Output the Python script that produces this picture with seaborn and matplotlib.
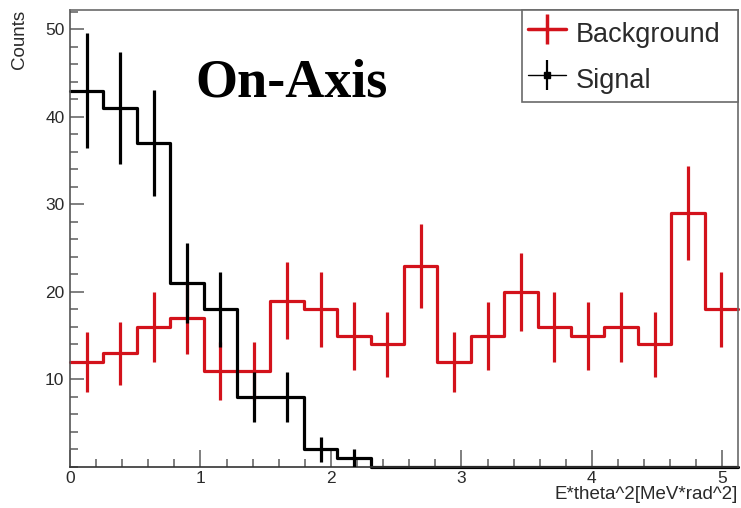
import numpy as np
import pandas as pd
import matplotlib
matplotlib.use("Agg")
import matplotlib.pyplot as plt
from matplotlib.lines import Line2D
from matplotlib.ticker import MultipleLocator
import seaborn as sns

# Histogram binning: 20 equal bins on E*theta^2
n_bins = 20
x_max = 5.12
bin_edges = np.linspace(0.0, x_max, n_bins + 1)
bin_centers = 0.5 * (bin_edges[:-1] + bin_edges[1:])

# Bin contents
background_counts = [12, 13, 16, 17, 11, 11, 19, 18, 15, 14,
                     23, 12, 15, 20, 16, 15, 16, 14, 29, 18]
signal_counts = [43, 41, 37, 21, 18, 8, 8, 2, 1, 0,
                 0, 0, 0, 0, 0, 0, 0, 0, 0, 0]

series_labels = ["Background", "Signal"]
x_label = "E*theta^2[MeV*rad^2]"
y_label = "Counts"
title_text = "On-Axis"

df = pd.DataFrame({
    "center": np.concatenate([bin_centers, bin_centers]),
    "counts": np.concatenate([background_counts, signal_counts]),
    "sample": np.repeat(series_labels, n_bins),
})

red = "#d3121b"
black = "#000000"
text_col = "#2a2a2a"
frame_col = "#6a6a6a"

sns.set_style("white")
plt.rcParams["font.family"] = ["Liberation Sans", "DejaVu Sans"]

fig = plt.figure(figsize=(7.41, 5.08), dpi=100)
ax = fig.add_axes([70 / 741, 1 - 467 / 508, 668 / 741, 457 / 508])

hist_lw = 2.3
for label, color in zip(series_labels, [red, black]):
    sub = df[df["sample"] == label]
    sns.histplot(data=sub, x="center", weights="counts", bins=n_bins,
                 binrange=(0.0, x_max), element="step", fill=False,
                 color=color, linewidth=hist_lw, ax=ax, legend=False)

# Poisson error bars (sqrt N) at bin centres; empty bins carry none
for label, color in zip(series_labels, [red, black]):
    sub = df[(df["sample"] == label) & (df["counts"] > 0)]
    ax.errorbar(sub["center"], sub["counts"], yerr=np.sqrt(sub["counts"]),
                fmt="none", ecolor=color, elinewidth=hist_lw, capsize=0,
                zorder=3)

for ln in ax.lines:
    ln.set_clip_on(False)

ax.set_xlim(0, x_max)
ax.set_ylim(0, 52.2)

ax.xaxis.set_major_locator(MultipleLocator(1))
ax.xaxis.set_minor_locator(MultipleLocator(0.2))
ax.yaxis.set_minor_locator(MultipleLocator(2))
ax.set_yticks([10, 20, 30, 40, 50])
ax.set_yticklabels(["10", "20", "30", "40", "50"])

ax.tick_params(axis="both", which="both", direction="in", colors=frame_col,
               labelcolor=text_col, labelsize=12.5,
               bottom=True, left=True, top=False, right=False)
ax.tick_params(axis="x", which="major", length=12, width=1.2, pad=3)
ax.tick_params(axis="x", which="minor", length=6, width=1.2)
ax.tick_params(axis="y", which="major", length=10, width=1.2, pad=4)
ax.tick_params(axis="y", which="minor", length=6, width=1.2)

for side, sp in ax.spines.items():
    sp.set_visible(True)
    sp.set_color(frame_col)
    sp.set_linewidth(1.2)
ax.spines["bottom"].set_color("#333333")
ax.spines["left"].set_color("#555555")

ax.set_ylabel(y_label, loc="top", fontsize=13.5, color=text_col)
ax.yaxis.set_label_coords(-0.063, 1.0)
ax.set_xlabel(x_label, loc="right", fontsize=13.5, color=text_col)
ax.xaxis.set_label_coords(1.0, -0.042)

ax.text(0.187, 0.81, title_text, transform=ax.transAxes, ha="left",
        va="baseline", fontsize=39, fontweight="bold",
        family=["Liberation Serif", "DejaVu Serif"], color=black)

bg_handle = Line2D([], [], color=red, lw=2.5, marker="|", markersize=21,
                   markeredgewidth=2.5, markeredgecolor=red)
sig_line = Line2D([], [], color=black, lw=1.0, marker="|", markersize=21,
                  markeredgewidth=1.6, markeredgecolor=black)
sig_mark = Line2D([], [], linestyle="none", marker="s", markersize=4.5,
                  color=black)
leg = ax.legend([bg_handle, (sig_line, sig_mark)], series_labels,
                loc="upper right", bbox_to_anchor=(0.677, 0.0, 0.323, 1.0),
                mode="expand", borderaxespad=0, fancybox=False,
                framealpha=1, edgecolor=frame_col, fontsize=19.5,
                handlelength=1.4, handleheight=1.6, handletextpad=0.35,
                borderpad=0.22, labelspacing=0.4)
leg.get_frame().set_linewidth(1.2)
for t in leg.get_texts():
    t.set_color(text_col)

fig.savefig("out.png", dpi=100)
